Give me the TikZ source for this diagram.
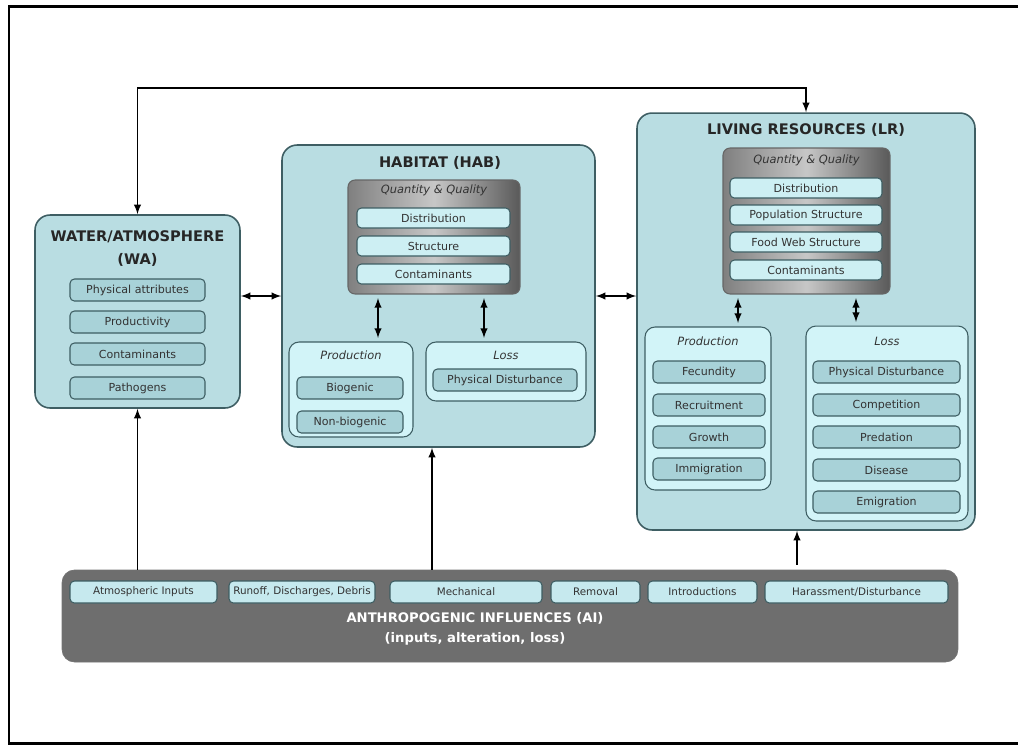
\documentclass[tikz,border=0pt]{standalone}
\usepackage{fontspec}
\setmainfont{DejaVu Sans}
\usepackage{xcolor}
\usepackage{tikz}
\usetikzlibrary{arrows, positioning}

\definecolor{boxblue}{HTML}{B9DDE2}
\definecolor{itemblue}{HTML}{A8D2D8}
\definecolor{qqitem}{HTML}{CDEFF3}
\definecolor{subblue}{HTML}{D2F4F8}
\definecolor{lineteal}{HTML}{3E5E63}
\definecolor{aigray}{HTML}{6E6E6E}

\begin{document}
\begin{tikzpicture}
	[
		x=0.02cm, y=-0.02cm, >=latex,
		bigbox/.style={draw=lineteal, line width=0.9pt, fill=boxblue, rounded corners=0.3cm},
		subbox/.style={draw=lineteal, line width=0.6pt, fill=subblue, rounded corners=0.2cm},
		qqbox/.style={draw=black!60, line width=0.6pt, rounded corners=4pt, left color=black!50, right color=black!65, middle color=black!22},
		itembox/.style={draw=lineteal, line width=0.6pt, fill=itemblue, rounded corners=2.5pt, minimum height=0.44cm, inner sep=0pt, font=\fontsize{6.3}{7}\selectfont, text=black!80},
		qqentry/.style={itembox, fill=qqitem, minimum height=0.4cm},
		aientry/.style={itembox, fill=qqitem!80!itemblue, font=\fontsize{5.9}{7}\selectfont},
		boxtitle/.style={font=\bfseries\fontsize{8.3}{13}\selectfont, text=black!85, align=center},
		subtitle/.style={font=\itshape\fontsize{6.5}{7}\selectfont, text=black!80},
		link/.style={<->, line width=0.9pt, shorten <=2pt, shorten >=2pt}
	]
	\useasboundingbox (0,0) rectangle (1018,745);
	% frame
	\draw[line width=1.7pt] (1030,6) -- (9,6) -- (9,743) -- (1030,743);

	% water / atmosphere
	\node[bigbox, minimum width=4.1cm, minimum height=3.86cm] (wa) at (137.5,311.5) {};
	\node[boxtitle] (watitle) at (137.5,248.5) {WATER/ATMOSPHERE\\(WA)};
	\foreach \y/\txt/\nm in {290/Physical attributes/wa1, 322/Productivity/wa2, 354/Contaminants/wa3, 388/Pathogens/wa4}
		\node[itembox, minimum width=2.7cm] (\nm) at (137.5,\y) {\txt};

	% habitat
	\node[bigbox, minimum width=6.26cm, minimum height=6.04cm] (hab) at (438.5,296) {};
	\node[boxtitle] (habtitle) at (440,163) {HABITAT (HAB)};
	\node[qqbox, minimum width=3.44cm, minimum height=2.28cm] (habqq) at (434,237) {};
	\node[subtitle] (habqqtitle) at (434,190) {Quantity \& Quality};
	\foreach \y/\txt/\nm in {218/Distribution/hq1, 246/Structure/hq2, 274/Contaminants/hq3}
		\node[qqentry, minimum width=3.06cm] (\nm) at (433.5,\y) {\txt};
	\node[subbox, minimum width=2.48cm, minimum height=1.9cm] (habprod) at (351,389.5) {};
	\node[subtitle] (habprodtitle) at (351,355) {Production};
	\node[itembox, minimum width=2.12cm] (hp1) at (350,388) {Biogenic};
	\node[itembox, minimum width=2.12cm] (hp2) at (350,422) {Non-biogenic};
	\node[subbox, minimum width=3.2cm, minimum height=1.18cm] (habloss) at (506,371.5) {};
	\node[subtitle] (hablosstitle) at (506,355) {Loss};
	\node[itembox, minimum width=2.88cm] (hl1) at (505,380) {Physical Disturbance};
	\draw[link] ([xshift=-1.12cm]habqq.south) -- ([xshift=-1.12cm]habqq.south |- habprod.north);
	\draw[link] ([xshift=1cm]habqq.south) -- ([xshift=1cm]habqq.south |- habloss.north);

	% living resources
	\node[bigbox, minimum width=6.76cm, minimum height=8.34cm] (lr) at (806,321.5) {};
	\node[boxtitle] (lrtitle) at (806,130) {LIVING RESOURCES (LR)};
	\node[qqbox, minimum width=3.34cm, minimum height=2.92cm] (lrqq) at (806.5,221) {};
	\node[subtitle] (lrqqtitle) at (806.5,160) {Quantity \& Quality};
	\foreach \y/\txt/\nm in {188/Distribution/lq1, 215/Population Structure/lq2, 242/Food Web Structure/lq3, 270/Contaminants/lq4}
		\node[qqentry, minimum width=3.04cm] (\nm) at (806,\y) {\txt};
	\node[subbox, minimum width=2.52cm, minimum height=3.26cm] (lrprod) at (708,408.5) {};
	\node[subtitle] (lrprodtitle) at (708,341) {Production};
	\foreach \y/\txt/\nm in {372/Fecundity/lp1, 405/Recruitment/lp2, 437/Growth/lp3, 469/Immigration/lp4}
		\node[itembox, minimum width=2.24cm] (\nm) at (709,\y) {\txt};
	\node[subbox, minimum width=3.24cm, minimum height=3.9cm] (lrloss) at (887,423.5) {};
	\node[subtitle] (lrlosstitle) at (887,341) {Loss};
	\foreach \y/\txt/\nm in {372/Physical Disturbance/ll1, 405/Competition/ll2, 437/Predation/ll3, 470/Disease/ll4, 502/Emigration/ll5}
		\node[itembox, minimum width=2.94cm] (\nm) at (886.5,\y) {\txt};
	\draw[link] ([xshift=-1.37cm]lrqq.south) -- ([xshift=-1.37cm]lrqq.south |- lrprod.north);
	\draw[link] ([xshift=0.99cm]lrqq.south) -- ([xshift=0.99cm]lrqq.south |- lrloss.north);

	% anthropogenic influences
	\node[draw=black!55, fill=aigray, rounded corners=0.25cm, minimum width=17.92cm, minimum height=1.84cm] (ai) at (510,616) {};
	\foreach \x/\w/\txt/\nm in {143.5/2.94/Atmospheric Inputs/ai1, 302/2.92/{Runoff, Discharges, Debris}/ai2, 466/3.04/Mechanical/ai3, 595.5/1.78/Removal/ai4, 702.5/2.18/Introductions/ai5, 856.5/3.66/{Harassment/Disturbance}/ai6}
		\node[aientry, minimum width=\w cm] (\nm) at (\x,592) {\txt};
	\node[font=\bfseries\fontsize{7.5}{11.5}\selectfont, text=white, align=center] (aitext) at (475,629) {ANTHROPOGENIC INFLUENCES (AI)\\(inputs, alteration, loss)};

	% connectors
	\coordinate (bend) at (0,88);
	\draw[<->, line width=0.9pt] (wa.north) -- (wa.north |- bend) -| (lr.north);
	\draw[<->, line width=0.9pt] (hab.west) -- (hab.west -| wa.east);
	\draw[<->, line width=0.9pt] (hab.east) -- (hab.east -| lr.west);
	\draw[->, line width=0.9pt] (ai.north -| wa.south) -- (wa.south);
	\draw[->, line width=0.9pt] ([xshift=-0.13cm]ai.north -| hab.south) -- ([xshift=-0.13cm]hab.south);
	\draw[->, line width=0.9pt] ([xshift=-0.18cm, yshift=0.1cm]ai.north -| lr.south) -- ([xshift=-0.18cm]lr.south);
\end{tikzpicture}
\end{document}
